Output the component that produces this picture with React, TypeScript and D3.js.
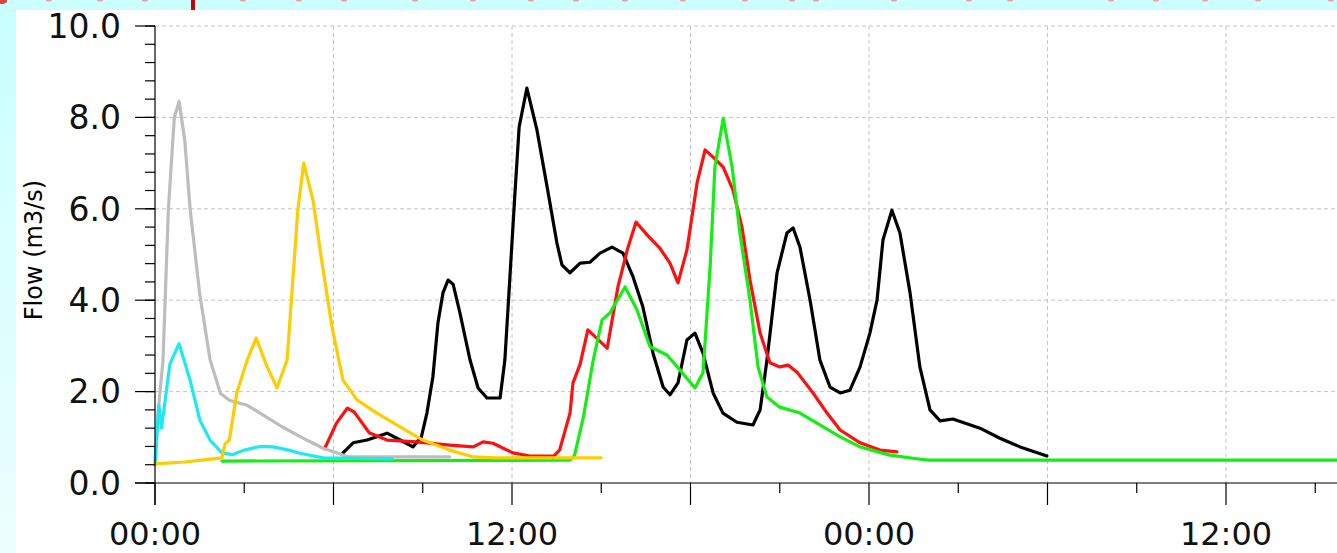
import React from 'react';
import * as d3 from 'd3';

// hours since 00:00, flow (m3/s)
const graySeries: [number, number][] = [
  [0, 0.4], [0.1, 1.5], [0.27, 2.7], [0.45, 6.0], [0.65, 8.0], [0.81, 8.35], [1.0, 7.5],
  [1.18, 6.0], [1.5, 4.15], [1.85, 2.7], [2.2, 1.96], [2.5, 1.81], [3.1, 1.7], [3.53, 1.53],
  [4.3, 1.22], [5.1, 0.94], [5.65, 0.76], [6.1, 0.66], [6.5, 0.57], [9.9, 0.57],
];
const cyanSeries: [number, number][] = [
  [0, 0.4], [0.13, 1.7], [0.22, 1.2], [0.5, 2.6], [0.81, 3.05], [1.18, 2.25], [1.51, 1.37],
  [1.85, 0.94], [2.25, 0.66], [2.6, 0.62], [3.0, 0.72], [3.53, 0.8], [3.97, 0.79], [4.5, 0.72],
  [4.87, 0.65], [5.65, 0.55], [7.97, 0.53],
];
const yellowSeries: [number, number][] = [
  [0, 0.42], [1.0, 0.46], [2.25, 0.55], [2.35, 0.85], [2.5, 0.94], [2.75, 1.97], [3.1, 2.69],
  [3.4, 3.17], [3.77, 2.54], [4.1, 2.08], [4.44, 2.69], [4.64, 4.5], [4.8, 5.97], [5.0, 7.0],
  [5.31, 6.19], [5.6, 4.88], [5.95, 3.41], [6.32, 2.25], [6.79, 1.82], [7.46, 1.53], [8.24, 1.23],
  [9.0, 0.94], [9.9, 0.72], [10.7, 0.57], [11.5, 0.55], [15.0, 0.55],
];
const redSeries: [number, number][] = [
  [5.7, 0.75], [6.1, 1.31], [6.47, 1.64], [6.7, 1.55], [7.2, 1.1], [7.8, 0.94], [8.8, 0.9],
  [9.9, 0.83], [10.7, 0.79], [11.03, 0.9], [11.36, 0.87], [12.03, 0.66], [12.6, 0.59],
  [13.4, 0.59], [13.6, 0.72], [13.95, 1.53], [14.05, 2.19], [14.29, 2.6], [14.55, 3.35],
  [15.2, 2.95], [15.56, 4.29], [15.9, 5.16], [16.17, 5.71], [16.54, 5.43], [16.97, 5.14],
  [17.31, 4.81], [17.58, 4.38], [17.88, 5.1], [18.22, 6.56], [18.49, 7.29], [18.76, 7.13],
  [19.1, 6.91], [19.43, 6.41], [19.73, 5.6], [20.0, 4.44], [20.34, 3.28], [20.67, 2.63],
  [21.0, 2.54], [21.28, 2.58], [21.6, 2.41], [22.12, 1.97], [22.59, 1.53], [23.03, 1.16],
  [23.7, 0.88], [24.37, 0.72], [24.94, 0.68],
];
const greenSeries: [number, number][] = [
  [2.25, 0.48], [13.95, 0.5], [14.1, 0.6], [14.4, 1.44], [14.73, 2.69], [15.03, 3.57],
  [15.29, 3.72], [15.8, 4.29], [16.2, 3.79], [16.64, 2.98], [17.21, 2.8], [17.65, 2.47],
  [18.15, 2.08], [18.42, 2.41], [18.66, 4.73], [18.82, 6.91], [19.1, 7.98], [19.4, 6.91],
  [19.66, 5.47], [20.0, 4.0], [20.27, 2.54], [20.57, 1.88], [21.0, 1.66], [21.68, 1.53],
  [22.25, 1.31], [23.03, 1.01], [23.7, 0.79], [24.7, 0.61], [25.6, 0.53], [26.0, 0.5], [40, 0.5],
];
const blackSeries: [number, number][] = [
  [6.32, 0.66], [6.66, 0.88], [7.13, 0.94], [7.8, 1.09], [8.24, 0.94], [8.67, 0.79], [8.95, 1.0],
  [9.14, 1.53], [9.34, 2.32], [9.51, 3.5], [9.68, 4.16], [9.85, 4.44], [10.02, 4.35],
  [10.25, 3.72], [10.59, 2.69], [10.86, 2.08], [11.16, 1.86], [11.6, 1.86], [11.76, 2.69],
  [11.93, 4.51], [12.1, 6.35], [12.24, 7.79], [12.5, 8.64], [12.84, 7.72], [13.18, 6.48],
  [13.51, 5.25], [13.68, 4.77], [13.95, 4.6], [14.29, 4.81], [14.62, 4.83], [14.96, 5.03],
  [15.36, 5.16], [15.73, 5.03], [16.07, 4.51], [16.4, 3.85], [16.74, 2.84], [17.08, 2.1],
  [17.31, 1.93], [17.58, 2.19], [17.88, 3.13], [18.15, 3.28], [18.42, 2.84], [18.76, 1.97],
  [19.09, 1.53], [19.56, 1.33], [20.1, 1.27], [20.34, 1.6], [20.57, 2.69], [20.91, 4.6],
  [21.24, 5.47], [21.45, 5.58], [21.68, 5.16], [22.02, 4.0], [22.35, 2.69], [22.69, 2.1],
  [23.03, 1.97], [23.36, 2.03], [23.7, 2.54], [24.03, 3.28], [24.27, 4.0], [24.47, 5.32],
  [24.77, 5.97], [25.04, 5.47], [25.38, 4.16], [25.71, 2.54], [26.05, 1.6], [26.39, 1.36],
  [26.82, 1.4], [27.73, 1.2], [28.4, 0.98], [29.08, 0.79], [29.98, 0.59],
];

const yTickMajor = [0, 2, 4, 6, 8, 10];
const yTickLabels = ['0.0', '2.0', '4.0', '6.0', '8.0', '10.0'];
const xTickHours = [0, 3, 6, 9, 12, 15, 18, 21, 24, 27, 30, 33, 36, 39];
const xLabelHours = [0, 12, 24, 36];
const xLabels = ['00:00', '12:00', '00:00', '12:00'];
const titleMarksX = [49, 100, 145, 243, 299, 344, 415, 473, 531, 576, 625, 683, 745, 792, 816, 894, 969, 1010, 1111, 1156, 1205, 1258, 1331];

const W = 1337;
const H = 553;

export default function App() {
  const x = d3.scaleLinear().domain([0, 40]).range([155, 1345]);
  const y = d3.scaleLinear().domain([0, 10]).range([483, 26]);
  const line = d3.line<[number, number]>().x((d) => x(d[0])).y((d) => y(d[1]));
  const minorY = d3.range(0, 10.001, 0.4);
  const gridX = [6, 12, 18, 24, 30, 36];
  const font = 'DejaVu Sans, Verdana, sans-serif';

  const series: { data: [number, number][]; color: string }[] = [
    { data: blackSeries, color: '#000000' },
    { data: redSeries, color: '#ff1010' },
    { data: greenSeries, color: '#14ee14' },
    { data: graySeries, color: '#bdbdbd' },
    { data: cyanSeries, color: '#1ee8f2' },
    { data: yellowSeries, color: '#ffcc00' },
  ];

  return (
    <svg width={W} height={H} style={{ position: 'fixed', left: 0, top: 0, display: 'block' }}>
      <defs>
        <linearGradient id="leftGrad" x1="0" y1="0" x2="0" y2="1">
          <stop offset="0" stopColor="#c8ffff" />
          <stop offset="1" stopColor="#eefefe" />
        </linearGradient>
      </defs>
      <rect x={0} y={0} width={W} height={H} fill="#ffffff" />
      <rect x={0} y={0} width={16} height={H} fill="url(#leftGrad)" />
      <rect x={0} y={0} width={W} height={10} fill="#ccffff" />
      <rect x={191} y={0} width={4} height={10} fill="#cc0000" />
      <ellipse cx={2} cy={1} rx={5} ry={3} fill="#e04040" />
      {titleMarksX.map((mx, i) => (
        <ellipse key={i} cx={mx} cy={0} rx={3} ry={1.5} fill="#e8a0a0" />
      ))}

      {/* grid */}
      {yTickMajor.filter((v) => v > 0).map((v) => (
        <line key={'gy' + v} x1={155} x2={W} y1={y(v)} y2={y(v)} stroke="#c4c4c4" strokeWidth={1} strokeDasharray="4,3" />
      ))}
      {gridX.map((h) => (
        <line key={'gx' + h} x1={x(h)} x2={x(h)} y1={y(10)} y2={y(0)} stroke="#c4c4c4" strokeWidth={1} strokeDasharray="4,3" />
      ))}

      {/* series */}
      {series.map((s, i) => (
        <path key={i} d={line(s.data) || ''} fill="none" stroke={s.color} strokeWidth={3.2} strokeLinejoin="round" strokeLinecap="round" />
      ))}

      {/* axes */}
      <line x1={135} x2={W} y1={y(0)} y2={y(0)} stroke="#000" strokeWidth={1.2} />
      <line x1={155} x2={155} y1={y(10)} y2={505} stroke="#000" strokeWidth={1.2} />
      {minorY.map((v, i) => (
        <line key={'my' + i} x1={145} x2={155} y1={y(v)} y2={y(v)} stroke="#000" strokeWidth={1.2} />
      ))}
      {yTickMajor.map((v) => (
        <line key={'My' + v} x1={135} x2={155} y1={y(v)} y2={y(v)} stroke="#000" strokeWidth={1.2} />
      ))}
      {yTickMajor.map((v, i) => (
        <text key={'ly' + v} x={121} y={y(v)} dy="0.36em" textAnchor="end" fontFamily={font} fontSize={33} fill="#111">
          {yTickLabels[i]}
        </text>
      ))}
      {xTickHours.map((h) => (
        <line key={'tx' + h} x1={x(h)} x2={x(h)} y1={y(0)} y2={h % 6 === 0 ? 505 : 493} stroke="#000" strokeWidth={1.2} />
      ))}
      {xLabelHours.map((h, i) => (
        <text key={'lx' + i} x={x(h)} y={545} textAnchor="middle" fontFamily={font} fontSize={32} fill="#111">
          {xLabels[i]}
        </text>
      ))}
      <text transform="translate(42,250) rotate(-90)" textAnchor="middle" fontFamily={font} fontSize={24} fill="#000">
        Flow (m3/s)
      </text>
    </svg>
  );
}
